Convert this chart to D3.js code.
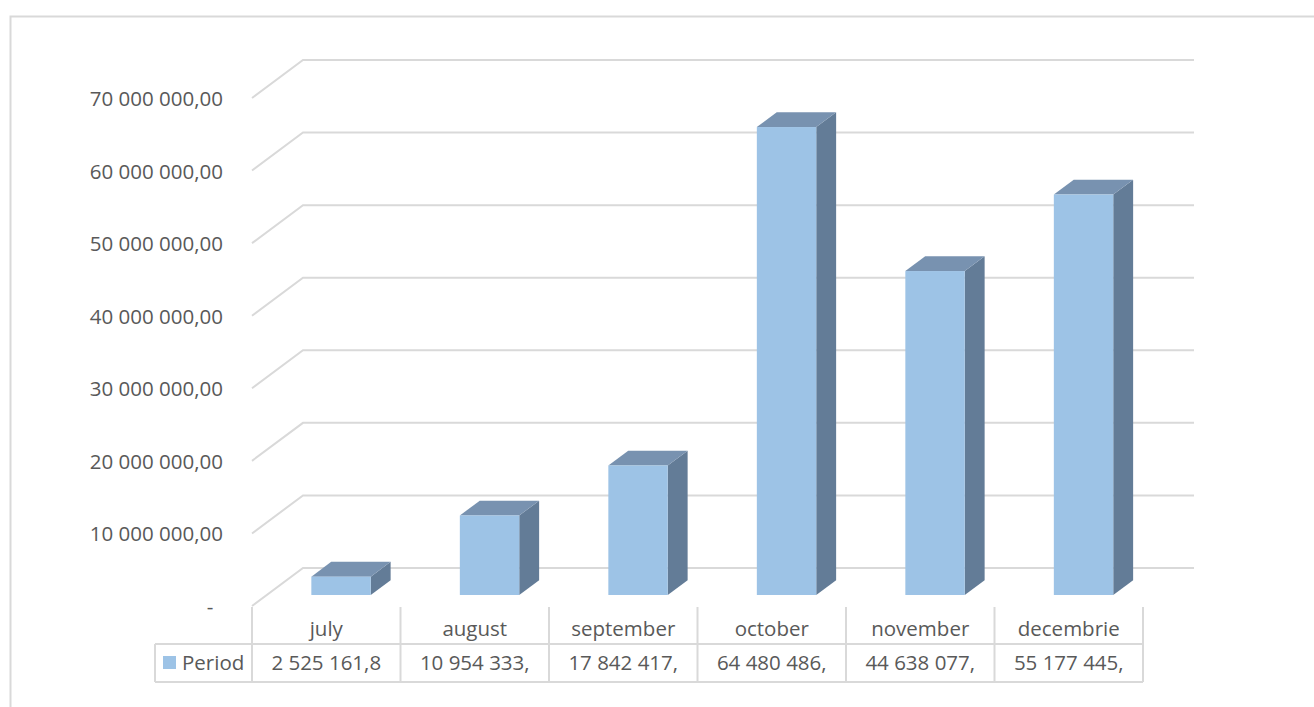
<!DOCTYPE html>
<html>
<head>
<meta charset="utf-8">
<script src="https://cdn.jsdelivr.net/npm/d3@7"></script>
<style>
  html, body { margin: 0; padding: 0; background: #fff; }
  svg text { font-family: "Open Sans", sans-serif; fill: #595959; }
</style>
</head>
<body>
<svg id="chart" width="1314" height="707"></svg>
<script>
// Monthly totals
const categories = ["july", "august", "september", "october", "november", "decembrie"];
const values = [2525161.8, 10954333, 17842417, 64480486, 44638077, 55177445];
const valueLabels = ["2 525 161,8", "10 954 333,", "17 842 417,", "64 480 486,", "44 638 077,", "55 177 445,"];
const tickValues = [0, 10000000, 20000000, 30000000, 40000000, 50000000, 60000000, 70000000];
const tickLabels = ["-", "10 000 000,00", "20 000 000,00", "30 000 000,00", "40 000 000,00",
                    "50 000 000,00", "60 000 000,00", "70 000 000,00"];
const seriesName = "Period";

const svg = d3.select("#chart");

// Layout of the oblique 3D plot
const floorLeft = 252, floorRight = 1143;
const depthX = 51, depthY = -38;         // offset from front plane to back wall
const barDepth0 = 0.29, barDepth1 = 0.68; // bar placement inside the depth
const gridColor = "#d9d9d9";
const colFront = "#9dc3e6", colTop = "#7892b0", colSide = "#637c97";

const x = d3.scaleBand().domain(categories).range([floorLeft, floorRight]).paddingInner(0).paddingOuter(0);
const y = d3.scaleLinear().domain([0, 70000000]).range([606, 98]);

// outer frame
svg.append("rect")
  .attr("x", 10.5).attr("y", 16.5).attr("width", 1400).attr("height", 800)
  .attr("fill", "none").attr("stroke", gridColor).attr("stroke-width", 2);

// gridlines: side wall diagonal + back wall horizontal
const grid = svg.append("g");
tickValues.forEach(t => {
  const yf = y(t);
  grid.append("path")
    .attr("d", `M${floorLeft},${yf} L${floorLeft + depthX},${yf + depthY} L${floorRight + depthX},${yf + depthY}`)
    .attr("fill", "none").attr("stroke", gridColor).attr("stroke-width", 2);
});

// value axis labels
const axisG = svg.append("g");
tickValues.forEach((t, i) => {
  axisG.append("text")
    .attr("x", t === 0 ? 210 : 223)
    .attr("y", y(t) + 8)
    .attr("text-anchor", t === 0 ? "middle" : "end")
    .style("font-size", "20.5px")
    .text(tickLabels[i]);
});

// bars
const bw = x.bandwidth();
const barW = bw * 0.4;
const bars = svg.append("g");
categories.forEach((c, i) => {
  const v = values[i];
  const x0 = x(c) + bw * 0.3 + barDepth0 * depthX;
  const x1 = x0 + barW;
  const yTop = y(v) + barDepth0 * depthY;
  const yBot = y(0) + barDepth0 * depthY;
  const ddx = (barDepth1 - barDepth0) * depthX;
  const ddy = (barDepth1 - barDepth0) * depthY;
  // side face
  bars.append("path")
    .attr("d", `M${x1},${yTop} L${x1 + ddx},${yTop + ddy} L${x1 + ddx},${yBot + ddy} L${x1},${yBot} Z`)
    .attr("fill", colSide);
  // top face
  bars.append("path")
    .attr("d", `M${x0},${yTop} L${x0 + ddx},${yTop + ddy} L${x1 + ddx},${yTop + ddy} L${x1},${yTop} Z`)
    .attr("fill", colTop);
  // front face
  bars.append("rect")
    .attr("x", x0).attr("y", yTop).attr("width", barW).attr("height", yBot - yTop)
    .attr("fill", colFront);
});

// data table under the plot
const tRowTop = 607, tMid = 644, tBot = 682, legendLeft = 155;
const table = svg.append("g");
const boundaries = categories.map(c => x(c)).concat([floorRight]);
boundaries.forEach(bx => {
  table.append("line")
    .attr("x1", bx).attr("x2", bx).attr("y1", tRowTop).attr("y2", tBot)
    .attr("stroke", gridColor).attr("stroke-width", 2);
});
[tMid, tBot].forEach(ly => {
  table.append("line")
    .attr("x1", legendLeft).attr("x2", floorRight).attr("y1", ly).attr("y2", ly)
    .attr("stroke", gridColor).attr("stroke-width", 2);
});
table.append("line")
  .attr("x1", legendLeft).attr("x2", legendLeft).attr("y1", tMid).attr("y2", tBot)
  .attr("stroke", gridColor).attr("stroke-width", 2);

categories.forEach((c, i) => {
  const cx = x(c) + bw / 2;
  table.append("text")
    .attr("x", cx).attr("y", 636).attr("text-anchor", "middle")
    .style("font-size", "20.5px").text(c);
  table.append("text")
    .attr("x", cx).attr("y", 670).attr("text-anchor", "middle")
    .style("font-size", "20.5px").text(valueLabels[i]);
});

// legend key inside the table
table.append("rect")
  .attr("x", 163).attr("y", 656).attr("width", 13).attr("height", 13)
  .attr("fill", colFront);
table.append("text")
  .attr("x", 182).attr("y", 670)
  .style("font-size", "20.5px").text(seriesName);
</script>
</body>
</html>
